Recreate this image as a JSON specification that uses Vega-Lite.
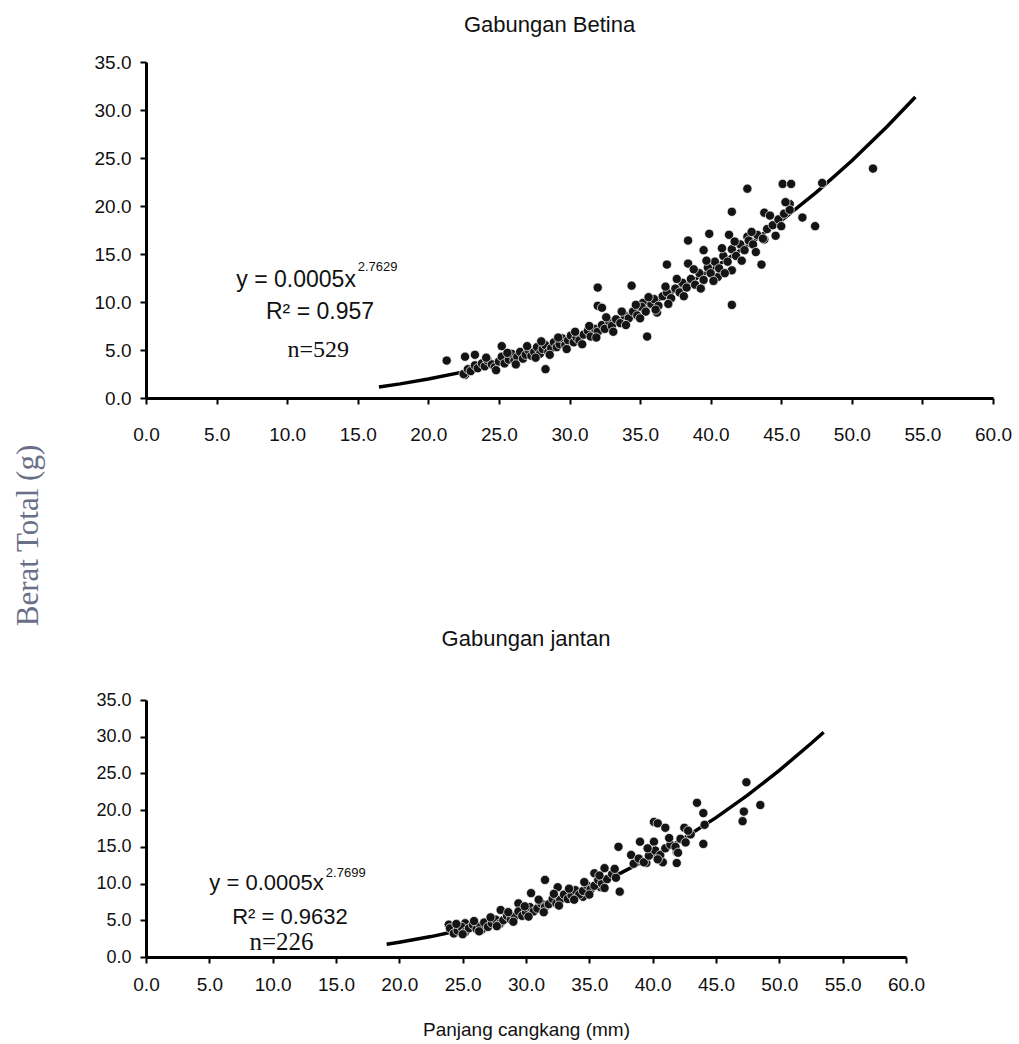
{
  "$schema": "https://vega.github.io/schema/vega-lite/v6.json",
  "background": "white",
  "padding": {"left": 12, "top": 14, "right": 2, "bottom": 2},
  "bounds": "flush",
  "spacing": 302,
  "config": {
    "font": "Liberation Sans",
    "view": {"stroke": null},
    "axis": {
      "grid": false,
      "domainColor": "#000000",
      "domainWidth": 3,
      "tickColor": "#000000",
      "tickWidth": 2,
      "tickSize": 6,
      "labelFlush": false,
      "labelOverlap": false,
      "labelFont": "Liberation Sans",
      "labelColor": "#111111",
      "titleFont": "Liberation Sans",
      "titleColor": "#111111",
      "titleFontWeight": "normal"
    },
    "title": {"font": "Liberation Sans", "fontWeight": "normal", "color": "#111111"}
  },
  "datasets": {
    "fem": [
      {"x": 21.3, "y": 3.9}, {"x": 22.6, "y": 4.3}, {"x": 23.3, "y": 4.5}, {"x": 22.6, "y": 2.4}, {"x": 25.2, "y": 5.4},
      {"x": 28.3, "y": 3.0}, {"x": 32.0, "y": 11.5}, {"x": 32.0, "y": 9.6}, {"x": 32.3, "y": 9.4}, {"x": 34.4, "y": 11.7},
      {"x": 35.5, "y": 6.4}, {"x": 36.2, "y": 8.9}, {"x": 35.2, "y": 9.9}, {"x": 36.9, "y": 13.9}, {"x": 38.4, "y": 14.0},
      {"x": 38.4, "y": 16.4}, {"x": 39.9, "y": 17.1}, {"x": 41.5, "y": 19.4}, {"x": 42.6, "y": 21.8}, {"x": 41.5, "y": 9.7},
      {"x": 43.6, "y": 13.9}, {"x": 43.8, "y": 19.3}, {"x": 43.8, "y": 16.5}, {"x": 45.1, "y": 22.3}, {"x": 45.7, "y": 22.3},
      {"x": 45.6, "y": 20.2}, {"x": 46.5, "y": 18.8}, {"x": 47.4, "y": 17.9}, {"x": 47.9, "y": 22.4}, {"x": 51.5, "y": 23.9},
      {"x": 41.3, "y": 17.0}, {"x": 42.6, "y": 16.8}, {"x": 39.5, "y": 15.4}, {"x": 37.9, "y": 11.2}, {"x": 41.5, "y": 13.3},
      {"x": 40.5, "y": 12.6},
      {"x": 22.5, "y": 2.5}, {"x": 22.8, "y": 3.0}, {"x": 23.0, "y": 2.8}, {"x": 23.3, "y": 3.4}, {"x": 23.5, "y": 3.1},
      {"x": 23.8, "y": 3.6}, {"x": 24.0, "y": 3.3}, {"x": 24.2, "y": 3.9}, {"x": 24.5, "y": 3.5}, {"x": 24.7, "y": 3.2},
      {"x": 25.0, "y": 3.8}, {"x": 25.2, "y": 4.3}, {"x": 25.4, "y": 3.6}, {"x": 25.7, "y": 4.0}, {"x": 25.9, "y": 4.6},
      {"x": 26.1, "y": 3.9}, {"x": 26.3, "y": 4.3}, {"x": 26.5, "y": 4.8}, {"x": 26.7, "y": 4.1}, {"x": 26.9, "y": 4.5},
      {"x": 27.1, "y": 5.0}, {"x": 27.3, "y": 4.4}, {"x": 27.5, "y": 4.8}, {"x": 27.7, "y": 5.3}, {"x": 27.9, "y": 4.6},
      {"x": 28.1, "y": 5.1}, {"x": 28.3, "y": 5.5}, {"x": 28.5, "y": 4.8}, {"x": 28.7, "y": 5.2}, {"x": 28.9, "y": 5.8},
      {"x": 29.1, "y": 5.3}, {"x": 29.3, "y": 5.6}, {"x": 29.5, "y": 6.2}, {"x": 29.7, "y": 5.5}, {"x": 29.9, "y": 6.0},
      {"x": 30.1, "y": 6.5}, {"x": 30.3, "y": 5.8}, {"x": 30.5, "y": 6.3}, {"x": 30.7, "y": 6.0}, {"x": 31.0, "y": 6.6},
      {"x": 31.3, "y": 7.0}, {"x": 31.5, "y": 6.4}, {"x": 31.8, "y": 7.2}, {"x": 32.0, "y": 6.9}, {"x": 32.3, "y": 7.6},
      {"x": 32.5, "y": 7.2}, {"x": 32.8, "y": 8.0}, {"x": 33.0, "y": 7.5}, {"x": 33.3, "y": 8.2}, {"x": 33.6, "y": 7.8},
      {"x": 33.9, "y": 8.6}, {"x": 34.2, "y": 8.3}, {"x": 34.5, "y": 9.0}, {"x": 34.8, "y": 8.6}, {"x": 35.1, "y": 9.5},
      {"x": 35.4, "y": 9.0}, {"x": 35.8, "y": 9.8}, {"x": 36.0, "y": 10.3}, {"x": 36.3, "y": 9.6}, {"x": 36.6, "y": 10.6},
      {"x": 36.9, "y": 11.0}, {"x": 37.2, "y": 10.4}, {"x": 37.5, "y": 11.4}, {"x": 37.8, "y": 11.0}, {"x": 38.0, "y": 12.0},
      {"x": 38.3, "y": 11.5}, {"x": 38.6, "y": 12.4}, {"x": 38.9, "y": 11.8}, {"x": 39.2, "y": 13.0}, {"x": 39.5, "y": 12.3},
      {"x": 39.8, "y": 13.6}, {"x": 40.0, "y": 13.0}, {"x": 40.3, "y": 14.2}, {"x": 40.6, "y": 13.5}, {"x": 40.9, "y": 14.8},
      {"x": 41.2, "y": 14.2}, {"x": 41.5, "y": 15.5}, {"x": 41.8, "y": 14.8}, {"x": 42.1, "y": 16.0}, {"x": 42.4, "y": 15.4},
      {"x": 42.7, "y": 16.4}, {"x": 43.0, "y": 16.0}, {"x": 43.3, "y": 17.0}, {"x": 43.7, "y": 16.6}, {"x": 44.0, "y": 17.6},
      {"x": 44.4, "y": 18.0}, {"x": 44.8, "y": 18.6}, {"x": 45.2, "y": 19.2}, {"x": 45.6, "y": 19.6},
      {"x": 24.1, "y": 4.2}, {"x": 24.8, "y": 2.9}, {"x": 25.6, "y": 4.7}, {"x": 26.2, "y": 3.5}, {"x": 27.0, "y": 5.4},
      {"x": 27.6, "y": 4.2}, {"x": 28.0, "y": 5.9}, {"x": 28.6, "y": 4.5}, {"x": 29.2, "y": 6.3}, {"x": 29.8, "y": 5.1},
      {"x": 30.4, "y": 6.9}, {"x": 30.9, "y": 5.6}, {"x": 31.4, "y": 7.5}, {"x": 31.9, "y": 6.3}, {"x": 32.6, "y": 8.4},
      {"x": 33.1, "y": 6.9}, {"x": 33.7, "y": 9.0}, {"x": 34.0, "y": 7.6}, {"x": 34.7, "y": 9.7}, {"x": 35.0, "y": 8.3},
      {"x": 35.6, "y": 10.5}, {"x": 36.1, "y": 9.2}, {"x": 36.8, "y": 11.6}, {"x": 37.0, "y": 9.8}, {"x": 37.6, "y": 12.4},
      {"x": 38.1, "y": 10.6}, {"x": 38.8, "y": 13.4}, {"x": 39.3, "y": 11.4}, {"x": 39.7, "y": 14.3}, {"x": 40.2, "y": 12.2},
      {"x": 40.8, "y": 15.6}, {"x": 41.0, "y": 13.0}, {"x": 41.7, "y": 16.3}, {"x": 42.2, "y": 14.3}, {"x": 42.9, "y": 17.3},
      {"x": 43.2, "y": 15.2}, {"x": 44.2, "y": 19.0}, {"x": 44.6, "y": 16.9}, {"x": 45.3, "y": 20.4}, {"x": 45.0, "y": 17.9}
    ],
    "femcurve": [
      {"x": 16.5, "y": 1.15}, {"x": 18, "y": 1.47}, {"x": 20, "y": 1.97}, {"x": 22.5, "y": 2.72}, {"x": 25, "y": 3.64},
      {"x": 27.5, "y": 4.74}, {"x": 30, "y": 6.03}, {"x": 32.5, "y": 7.52}, {"x": 35, "y": 9.23}, {"x": 37.5, "y": 11.17},
      {"x": 40, "y": 13.34}, {"x": 42.5, "y": 15.78}, {"x": 45, "y": 18.48}, {"x": 47.5, "y": 21.45}, {"x": 50, "y": 24.72},
      {"x": 52.5, "y": 28.29}, {"x": 54.5, "y": 31.36}
    ],
    "male": [
      {"x": 23.9, "y": 4.4}, {"x": 24.4, "y": 3.4}, {"x": 31.5, "y": 10.5}, {"x": 37.3, "y": 15.0}, {"x": 37.4, "y": 8.9},
      {"x": 40.1, "y": 18.4}, {"x": 40.4, "y": 18.2}, {"x": 41.0, "y": 17.6}, {"x": 43.5, "y": 21.0}, {"x": 44.0, "y": 19.6},
      {"x": 44.1, "y": 18.0}, {"x": 44.0, "y": 15.4}, {"x": 47.4, "y": 23.8}, {"x": 48.5, "y": 20.7}, {"x": 47.2, "y": 19.8},
      {"x": 47.1, "y": 18.5}, {"x": 39.0, "y": 15.7}, {"x": 39.5, "y": 12.8}, {"x": 40.8, "y": 12.9}, {"x": 41.9, "y": 12.8},
      {"x": 41.9, "y": 14.3}, {"x": 42.5, "y": 17.6}, {"x": 40.1, "y": 15.7}, {"x": 38.3, "y": 13.9}, {"x": 36.2, "y": 12.1},
      {"x": 35.4, "y": 11.4}, {"x": 35.9, "y": 9.5}, {"x": 34.5, "y": 8.2}, {"x": 33.3, "y": 8.7}, {"x": 32.5, "y": 9.5},
      {"x": 30.4, "y": 8.7}, {"x": 31.0, "y": 6.8}, {"x": 29.4, "y": 7.3}, {"x": 28.0, "y": 6.4}, {"x": 28.0, "y": 4.6},
      {"x": 26.5, "y": 3.7}, {"x": 25.2, "y": 4.6},
      {"x": 24.0, "y": 3.9}, {"x": 24.3, "y": 3.2}, {"x": 24.6, "y": 3.6}, {"x": 24.9, "y": 4.1}, {"x": 25.2, "y": 3.4},
      {"x": 25.5, "y": 3.9}, {"x": 25.8, "y": 4.4}, {"x": 26.1, "y": 3.8}, {"x": 26.4, "y": 4.2}, {"x": 26.7, "y": 4.7},
      {"x": 27.0, "y": 4.1}, {"x": 27.3, "y": 4.6}, {"x": 27.6, "y": 5.1}, {"x": 27.9, "y": 4.5}, {"x": 28.2, "y": 5.0},
      {"x": 28.5, "y": 5.6}, {"x": 28.8, "y": 5.1}, {"x": 29.1, "y": 5.5}, {"x": 29.4, "y": 6.2}, {"x": 29.7, "y": 5.6},
      {"x": 30.0, "y": 6.1}, {"x": 30.3, "y": 6.8}, {"x": 30.6, "y": 6.2}, {"x": 30.9, "y": 6.6}, {"x": 31.2, "y": 7.3},
      {"x": 31.5, "y": 6.8}, {"x": 31.8, "y": 7.2}, {"x": 32.1, "y": 7.9}, {"x": 32.4, "y": 7.3}, {"x": 32.7, "y": 7.8},
      {"x": 33.0, "y": 8.5}, {"x": 33.3, "y": 7.9}, {"x": 33.6, "y": 8.4}, {"x": 33.9, "y": 9.1}, {"x": 34.2, "y": 8.5},
      {"x": 34.5, "y": 9.0}, {"x": 34.8, "y": 9.8}, {"x": 35.1, "y": 9.2}, {"x": 35.4, "y": 9.7}, {"x": 35.7, "y": 10.5},
      {"x": 36.0, "y": 10.0}, {"x": 36.4, "y": 10.6}, {"x": 36.8, "y": 11.3}, {"x": 37.1, "y": 10.8}, {"x": 38.5, "y": 12.7},
      {"x": 38.9, "y": 13.4}, {"x": 39.3, "y": 12.9}, {"x": 39.7, "y": 13.8}, {"x": 40.2, "y": 14.5}, {"x": 40.6, "y": 13.9},
      {"x": 41.0, "y": 14.8}, {"x": 41.4, "y": 15.3}, {"x": 41.8, "y": 15.0}, {"x": 42.2, "y": 16.1}, {"x": 42.6, "y": 15.6},
      {"x": 43.0, "y": 16.7},
      {"x": 24.5, "y": 4.5}, {"x": 25.0, "y": 3.1}, {"x": 25.9, "y": 4.9}, {"x": 26.3, "y": 3.5}, {"x": 27.2, "y": 5.4},
      {"x": 27.7, "y": 4.2}, {"x": 28.6, "y": 6.1}, {"x": 29.0, "y": 4.8}, {"x": 29.9, "y": 6.9}, {"x": 30.2, "y": 5.5},
      {"x": 31.0, "y": 7.8}, {"x": 31.4, "y": 6.1}, {"x": 32.2, "y": 8.6}, {"x": 32.6, "y": 7.0}, {"x": 33.4, "y": 9.3},
      {"x": 33.8, "y": 7.8}, {"x": 34.6, "y": 10.2}, {"x": 35.0, "y": 8.5}, {"x": 35.8, "y": 11.1}, {"x": 36.2, "y": 9.4},
      {"x": 37.0, "y": 12.0}, {"x": 39.6, "y": 14.8}, {"x": 40.4, "y": 13.3}, {"x": 41.3, "y": 16.2}, {"x": 42.0, "y": 14.2},
      {"x": 42.8, "y": 17.2}
    ],
    "malecurve": [
      {"x": 19, "y": 1.74}, {"x": 20, "y": 2.01}, {"x": 22.5, "y": 2.78}, {"x": 25, "y": 3.72}, {"x": 27.5, "y": 4.85},
      {"x": 30, "y": 6.17}, {"x": 32.5, "y": 7.70}, {"x": 35, "y": 9.46}, {"x": 37.5, "y": 11.45}, {"x": 40, "y": 13.69},
      {"x": 42.5, "y": 16.20}, {"x": 45, "y": 18.98}, {"x": 47.5, "y": 22.04}, {"x": 50, "y": 25.41}, {"x": 52.5, "y": 29.08},
      {"x": 53.5, "y": 30.6}
    ]
  },
  "vconcat": [
    {
      "width": 847,
      "height": 336,
      "title": {"text": "Gabungan Betina", "fontSize": 22, "offset": 16, "dx": -20},
      "layer": [
        {
          "data": {"name": "femcurve"},
          "mark": {"type": "line", "color": "#000000", "strokeWidth": 3.5},
          "encoding": {
            "x": {"field": "x", "type": "quantitative", "scale": {"domain": [0, 60], "nice": false, "zero": false},
              "axis": {"values": [0, 5, 10, 15, 20, 25, 30, 35, 40, 45, 50, 55, 60], "tickCount": 13, "format": ".1f", "title": null,
                "labelFontSize": 19, "labelPadding": 21, "labelOverlap": false, "labelFlush": false}},
            "y": {"field": "y", "type": "quantitative", "scale": {"domain": [0, 35], "nice": false},
              "axis": {"values": [0, 5, 10, 15, 20, 25, 30, 35], "tickCount": 8, "format": ".1f", "labelFontSize": 19, "labelPadding": 9,
                "labelOverlap": false, "labelFlush": false,
                "title": "Berat Total (g)", "titleFont": "Liberation Serif", "titleFontSize": 31, "titleColor": "#6a6f88",
                "titleX": -118, "titleY": 473, "titleAngle": -90, "titleBaseline": "middle", "titleAlign": "center"}}
          }
        },
        {
          "data": {"name": "fem"},
          "mark": {"type": "circle", "size": 85, "fill": "#141414", "stroke": "#ffffff", "strokeWidth": 0.7, "opacity": 1},
          "encoding": {
            "x": {"field": "x", "type": "quantitative",
              "axis": {"values": [0, 5, 10, 15, 20, 25, 30, 35, 40, 45, 50, 55, 60], "tickCount": 13, "format": ".1f", "title": null,
                "labelFontSize": 19, "labelPadding": 21, "labelOverlap": false, "labelFlush": false}},
            "y": {"field": "y", "type": "quantitative",
              "axis": {"values": [0, 5, 10, 15, 20, 25, 30, 35], "tickCount": 8, "format": ".1f", "labelFontSize": 19, "labelPadding": 9,
                "labelOverlap": false, "labelFlush": false,
                "title": "Berat Total (g)", "titleFont": "Liberation Serif", "titleFontSize": 31, "titleColor": "#6a6f88",
                "titleX": -118, "titleY": 473, "titleAngle": -90, "titleBaseline": "middle", "titleAlign": "center"}}
          }
        },
        {
          "data": {"values": [{"t": "y = 0.0005x", "px": 6.4, "py": 12.3}, {"t": "R² = 0.957", "px": 8.5, "py": 9.0}]},
          "mark": {"type": "text", "align": "left", "baseline": "middle", "fontSize": 23, "color": "#111111"},
          "encoding": {
            "x": {"field": "px", "type": "quantitative",
              "axis": {"values": [0, 5, 10, 15, 20, 25, 30, 35, 40, 45, 50, 55, 60], "tickCount": 13, "format": ".1f", "title": null,
                "labelFontSize": 19, "labelPadding": 21, "labelOverlap": false, "labelFlush": false}},
            "y": {"field": "py", "type": "quantitative",
              "axis": {"values": [0, 5, 10, 15, 20, 25, 30, 35], "tickCount": 8, "format": ".1f", "labelFontSize": 19, "labelPadding": 9,
                "labelOverlap": false, "labelFlush": false,
                "title": "Berat Total (g)", "titleFont": "Liberation Serif", "titleFontSize": 31, "titleColor": "#6a6f88",
                "titleX": -118, "titleY": 473, "titleAngle": -90, "titleBaseline": "middle", "titleAlign": "center"}},
            "text": {"field": "t"}
          }
        },
        {
          "data": {"values": [{"t": "2.7629", "px": 15.0, "py": 13.6}]},
          "mark": {"type": "text", "align": "left", "baseline": "middle", "fontSize": 13, "color": "#111111"},
          "encoding": {
            "x": {"field": "px", "type": "quantitative",
              "axis": {"values": [0, 5, 10, 15, 20, 25, 30, 35, 40, 45, 50, 55, 60], "tickCount": 13, "format": ".1f", "title": null,
                "labelFontSize": 19, "labelPadding": 21, "labelOverlap": false, "labelFlush": false}},
            "y": {"field": "py", "type": "quantitative",
              "axis": {"values": [0, 5, 10, 15, 20, 25, 30, 35], "tickCount": 8, "format": ".1f", "labelFontSize": 19, "labelPadding": 9,
                "labelOverlap": false, "labelFlush": false,
                "title": "Berat Total (g)", "titleFont": "Liberation Serif", "titleFontSize": 31, "titleColor": "#6a6f88",
                "titleX": -118, "titleY": 473, "titleAngle": -90, "titleBaseline": "middle", "titleAlign": "center"}},
            "text": {"field": "t"}
          }
        },
        {
          "data": {"values": [{"t": "n=529", "px": 12.2, "py": 5.0}]},
          "mark": {"type": "text", "align": "center", "baseline": "middle", "fontSize": 24, "font": "Liberation Serif", "color": "#111111"},
          "encoding": {
            "x": {"field": "px", "type": "quantitative",
              "axis": {"values": [0, 5, 10, 15, 20, 25, 30, 35, 40, 45, 50, 55, 60], "tickCount": 13, "format": ".1f", "title": null,
                "labelFontSize": 19, "labelPadding": 21, "labelOverlap": false, "labelFlush": false}},
            "y": {"field": "py", "type": "quantitative",
              "axis": {"values": [0, 5, 10, 15, 20, 25, 30, 35], "tickCount": 8, "format": ".1f", "labelFontSize": 19, "labelPadding": 9,
                "labelOverlap": false, "labelFlush": false,
                "title": "Berat Total (g)", "titleFont": "Liberation Serif", "titleFontSize": 31, "titleColor": "#6a6f88",
                "titleX": -118, "titleY": 473, "titleAngle": -90, "titleBaseline": "middle", "titleAlign": "center"}},
            "text": {"field": "t"}
          }
        }
      ]
    },
    {
      "width": 760,
      "height": 257,
      "title": {"text": "Gabungan jantan", "fontSize": 22, "offset": 40},
      "layer": [
        {
          "data": {"name": "malecurve"},
          "mark": {"type": "line", "color": "#000000", "strokeWidth": 3.5},
          "encoding": {
            "x": {"field": "x", "type": "quantitative", "scale": {"domain": [0, 60], "nice": false, "zero": false},
              "axis": {"values": [0, 5, 10, 15, 20, 25, 30, 35, 40, 45, 50, 55, 60], "tickCount": 13, "format": ".1f",
                "title": "Panjang cangkang (mm)", "titleFontSize": 19, "titlePadding": 26,
                "labelFontSize": 19, "labelPadding": 12, "labelOverlap": false, "labelFlush": false}},
            "y": {"field": "y", "type": "quantitative", "scale": {"domain": [0, 35], "nice": false},
              "axis": {"values": [0, 5, 10, 15, 20, 25, 30, 35], "tickCount": 8, "format": ".1f", "labelFontSize": 18, "labelPadding": 9,
                "labelOverlap": false, "labelFlush": false, "title": null}}
          }
        },
        {
          "data": {"name": "male"},
          "mark": {"type": "circle", "size": 85, "fill": "#141414", "stroke": "#ffffff", "strokeWidth": 0.7, "opacity": 1},
          "encoding": {
            "x": {"field": "x", "type": "quantitative",
              "axis": {"values": [0, 5, 10, 15, 20, 25, 30, 35, 40, 45, 50, 55, 60], "tickCount": 13, "format": ".1f",
                "title": "Panjang cangkang (mm)", "titleFontSize": 19, "titlePadding": 26,
                "labelFontSize": 19, "labelPadding": 12, "labelOverlap": false, "labelFlush": false}},
            "y": {"field": "y", "type": "quantitative",
              "axis": {"values": [0, 5, 10, 15, 20, 25, 30, 35], "tickCount": 8, "format": ".1f", "labelFontSize": 18, "labelPadding": 9,
                "labelOverlap": false, "labelFlush": false, "title": null}}
          }
        },
        {
          "data": {"values": [{"t": "y = 0.0005x", "px": 5.0, "py": 10.1}, {"t": "R² = 0.9632", "px": 6.8, "py": 5.4}]},
          "mark": {"type": "text", "align": "left", "baseline": "middle", "fontSize": 22, "color": "#111111"},
          "encoding": {
            "x": {"field": "px", "type": "quantitative",
              "axis": {"values": [0, 5, 10, 15, 20, 25, 30, 35, 40, 45, 50, 55, 60], "tickCount": 13, "format": ".1f",
                "title": "Panjang cangkang (mm)", "titleFontSize": 19, "titlePadding": 26,
                "labelFontSize": 19, "labelPadding": 12, "labelOverlap": false, "labelFlush": false}},
            "y": {"field": "py", "type": "quantitative",
              "axis": {"values": [0, 5, 10, 15, 20, 25, 30, 35], "tickCount": 8, "format": ".1f", "labelFontSize": 18, "labelPadding": 9,
                "labelOverlap": false, "labelFlush": false, "title": null}},
            "text": {"field": "t"}
          }
        },
        {
          "data": {"values": [{"t": "2.7699", "px": 14.2, "py": 11.5}]},
          "mark": {"type": "text", "align": "left", "baseline": "middle", "fontSize": 13, "color": "#111111"},
          "encoding": {
            "x": {"field": "px", "type": "quantitative",
              "axis": {"values": [0, 5, 10, 15, 20, 25, 30, 35, 40, 45, 50, 55, 60], "tickCount": 13, "format": ".1f",
                "title": "Panjang cangkang (mm)", "titleFontSize": 19, "titlePadding": 26,
                "labelFontSize": 19, "labelPadding": 12, "labelOverlap": false, "labelFlush": false}},
            "y": {"field": "py", "type": "quantitative",
              "axis": {"values": [0, 5, 10, 15, 20, 25, 30, 35], "tickCount": 8, "format": ".1f", "labelFontSize": 18, "labelPadding": 9,
                "labelOverlap": false, "labelFlush": false, "title": null}},
            "text": {"field": "t"}
          }
        },
        {
          "data": {"values": [{"t": "n=226", "px": 10.7, "py": 2.0}]},
          "mark": {"type": "text", "align": "center", "baseline": "middle", "fontSize": 25, "font": "Liberation Serif", "color": "#111111"},
          "encoding": {
            "x": {"field": "px", "type": "quantitative",
              "axis": {"values": [0, 5, 10, 15, 20, 25, 30, 35, 40, 45, 50, 55, 60], "tickCount": 13, "format": ".1f",
                "title": "Panjang cangkang (mm)", "titleFontSize": 19, "titlePadding": 26,
                "labelFontSize": 19, "labelPadding": 12, "labelOverlap": false, "labelFlush": false}},
            "y": {"field": "py", "type": "quantitative",
              "axis": {"values": [0, 5, 10, 15, 20, 25, 30, 35], "tickCount": 8, "format": ".1f", "labelFontSize": 18, "labelPadding": 9,
                "labelOverlap": false, "labelFlush": false, "title": null}},
            "text": {"field": "t"}
          }
        }
      ]
    }
  ]
}
